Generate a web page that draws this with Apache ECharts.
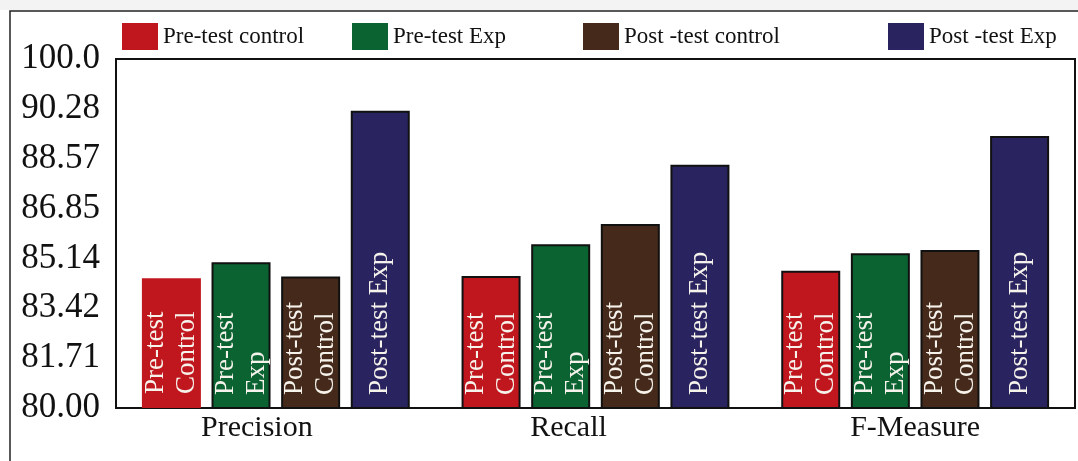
<!DOCTYPE html>
<html>
<head>
<meta charset="utf-8">
<script src="https://cdn.jsdelivr.net/npm/echarts@6/dist/echarts.min.js"></script>
<style>
  html, body { margin: 0; padding: 0; background: #fff; }
  #chart { width: 1078px; height: 461px; }
</style>
</head>
<body>
<div id="chart"></div>
<script>
// Evaluation metrics for the four test groups
const categories = ['Precision', 'Recall', 'F-Measure'];
const seriesNames = ['Pre-test control', 'Pre-test Exp', 'Post -test control', 'Post -test Exp'];
const barLabels = ['Pre-test\nControl', 'Pre-test\nExp', 'Post-test\nControl', 'Post-test Exp'];
const preTestControl = [84.46, 84.54, 84.72];
const preTestExp = [85.01, 85.63, 85.32];
const postTestControl = [84.52, 86.33, 85.43];
const postTestExp = [90.22, 88.36, 89.35];
const seriesValues = [preTestControl, preTestExp, postTestControl, postTestExp];

// y-axis ticks and the text printed at each of them
const tickValues = [80, 81.714, 83.429, 85.143, 86.857, 88.571, 90.286, 92];
const tickLabels = ['80.00', '81.71', '83.42', '85.14', '86.85', '88.57', '90.28', '100.0'];

const colors = ['#c0171f', '#0b6332', '#45291a', '#29245f'];
const serif = '"Liberation Serif", "Times New Roman", serif';

// per-category horizontal nudge of the x labels
const labelShift = [19, 27, 0];
const legendLeft = [122, 352, 583, 888];

const chart = echarts.init(document.getElementById('chart'), null, { renderer: 'canvas' });

const series = seriesValues.map((vals, s) => ({
  name: seriesNames[s],
  type: 'bar',
  barWidth: 59,
  barGap: '18%',
  data: vals.map((v, i) => (s === 0 && i === 0)
    ? { value: v, itemStyle: { borderWidth: 0 } }
    : v),
  itemStyle: { color: colors[s], borderColor: '#111', borderWidth: 2 },
  label: {
    show: true,
    position: 'insideBottom',
    distance: 14,
    rotate: 90,
    align: 'left',
    verticalAlign: 'middle',
    formatter: () => barLabels[s],
    color: '#f6f3ec',
    fontFamily: serif,
    fontSize: 27,
    lineHeight: 31
  }
}));

const legends = seriesNames.map((name, s) => ({
  data: [name],
  left: legendLeft[s],
  top: 23,
  padding: 0,
  itemWidth: 36,
  itemHeight: 27,
  icon: 'rect',
  selectedMode: false,
  itemStyle: { borderWidth: 0 },
  textStyle: { fontFamily: serif, fontSize: 23, color: '#111' }
}));

chart.setOption({
  animation: false,
  backgroundColor: '#fff',
  color: colors,
  legend: legends,
  graphic: [
    { type: 'rect', shape: { x: 0, y: 0, width: 1078, height: 10 }, style: { fill: '#f3f3f3' }, silent: true },
    { type: 'rect', shape: { x: 10, y: 11, width: 1100, height: 500 }, style: { fill: 'none', stroke: '#222', lineWidth: 1.5 }, silent: true }
  ],
  grid: {
    left: 116, right: 3, top: 59, bottom: 53,
    show: true, borderColor: '#111', borderWidth: 2, backgroundColor: 'transparent'
  },
  xAxis: {
    type: 'category',
    data: categories.map((c, i) => ({ value: c, textStyle: { padding: [0, labelShift[i] * 2, 0, 0] } })),
    axisLine: { show: false },
    axisTick: { show: false },
    axisLabel: { fontFamily: serif, fontSize: 30, color: '#111', margin: 5 }
  },
  yAxis: {
    type: 'value',
    min: 80,
    max: 92,
    axisLine: { show: false },
    axisTick: { show: false },
    splitLine: { show: false },
    axisLabel: {
      customValues: tickValues,
      fontFamily: serif,
      fontSize: 35,
      color: '#111',
      margin: 16,
      formatter: (v) => {
        let best = 0;
        tickValues.forEach((t, i) => { if (Math.abs(t - v) < Math.abs(tickValues[best] - v)) best = i; });
        return tickLabels[best];
      }
    }
  },
  series: series
});
</script>
</body>
</html>
